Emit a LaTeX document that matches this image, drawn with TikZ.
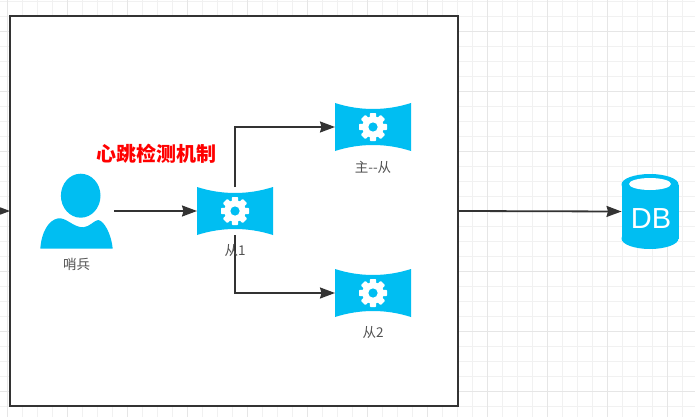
\documentclass[tikz,border=0pt]{standalone}
\usepackage{fontspec}
\setmainfont{Liberation Sans}
\newfontfamily\cjk{Noto Sans CJK SC}
\usetikzlibrary{arrows.meta}
\definecolor{iconblue}{HTML}{00BEF2}
\definecolor{ink}{HTML}{333333}
\definecolor{gridminor}{HTML}{F1F1F1}
\definecolor{gridmajor}{HTML}{E6E6E6}
\tikzset{
  conn/.style={draw=ink,line width=1.8pt,-{Stealth[length=15pt,width=11pt,inset=1.5pt]}},
  anchorbox/.style={inner sep=0pt,outer sep=0pt,minimum width=#1},
  sheetbox/.style={inner sep=0pt,outer sep=0pt,minimum width=76pt,minimum height=48pt},
  caption/.style={inner sep=0pt,text=ink!85,font=\cjk\fontsize{13.5}{15}\selectfont},
}
\newcommand{\sheeticon}[1]{%
  \begin{scope}[shift={(#1)}]
    \fill[iconblue] (-38,-24) .. controls (-13,-16) and (13,-16) .. (38,-24)
      -- (38,24) .. controls (13,16) and (-13,16) .. (-38,24) -- cycle;
    \fill[white] (0,0) circle[radius=10.8];
    \foreach \a in {0,45,...,315}
      \fill[white,rotate=\a,rounded corners=0.8pt] (-3.2,-14) rectangle (3.2,-7);
    \fill[iconblue] (0,0) circle[radius=4.6];
  \end{scope}}
\begin{document}
\begin{tikzpicture}[x=1pt,y=-1pt]
\useasboundingbox (0,0) rectangle (695,417);
\fill[white] (0,0) rectangle (695,417);
\foreach \k in {0,...,46} \draw[gridminor,line width=0.8pt] ({7+15*\k},0) -- ({7+15*\k},417);
\foreach \k in {0,...,27} \draw[gridminor,line width=0.8pt] (0,{1+15*\k}) -- (695,{1+15*\k});
\foreach \k in {0,...,11} \draw[gridmajor,line width=0.8pt] ({7+60*\k},0) -- ({7+60*\k},417);
\foreach \k in {0,...,6} \draw[gridmajor,line width=0.8pt] (0,{31+60*\k}) -- (695,{31+60*\k});

\node[draw=ink,fill=white,line width=1.8pt,inner sep=0pt,outer sep=0pt,minimum width=448pt,minimum height=390pt] (frame) at (234,211) {};
\coordinate (leftin) at (-4,211);

\node[anchorbox=75pt,minimum height=76pt] (sentinel) at (76.5,211) {};
\begin{scope}[shift={(sentinel.center)}]
  \fill[iconblue] (4.2,-15.3) ellipse[x radius=19.8,y radius=22];
  \fill[iconblue] (-36.2,37.7) .. controls (-35,21) and (-28,9) .. (-18.2,7.3)
    .. controls (-10,6.5) and (-3,16.5) .. (6.8,16.3)
    .. controls (13,16) and (18,9) .. (21.8,9)
    .. controls (28,10) and (35,24) .. (36.2,37.7) -- cycle;
\end{scope}
\node[sheetbox] (s1) at (235,211) {};
\node[sheetbox] (main) at (373,127) {};
\node[sheetbox] (s2) at (373,293) {};
\sheeticon{s1.center}
\sheeticon{main.center}
\sheeticon{s2.center}

\node[anchorbox=57pt,minimum height=75pt] (db) at (650,211.5) {};
\begin{scope}[shift={(db.center)}]
  \fill[iconblue] (-28.5,-27) rectangle (28.5,27);
  \fill[iconblue] (0,-27) ellipse[x radius=28.5,y radius=10.5];
  \fill[iconblue] (0,27) ellipse[x radius=28.5,y radius=10.5];
  \fill[white] (0,-27.5) ellipse[x radius=21,y radius=6];
\end{scope}
\node[inner sep=0pt,text=white,font=\fontsize{29}{31}\selectfont] (dblabel) at (651,219) {DB};

\draw[conn] (leftin) -- (frame.west);
\draw[conn] (sentinel.east) -- (s1.west);
\draw[conn] (s1.north) |- (main.west);
\draw[conn] (s1.south) |- (s2.west);
\draw[conn] (frame.east) -- (db.west);

\node[caption] (lblsentinel) at (76.5,264) {哨兵};
\node[caption] (lbls1) at (235,250) {从1};
\node[caption] (lblmain) at (373,167) {主--从};
\node[caption] (lbls2) at (373,332) {从2};
\node[inner sep=0pt,text=red,font=\cjk\bfseries\fontsize{20}{22}\selectfont] (title) at (156.5,154) {心跳检测机制};
\end{tikzpicture}
\end{document}
